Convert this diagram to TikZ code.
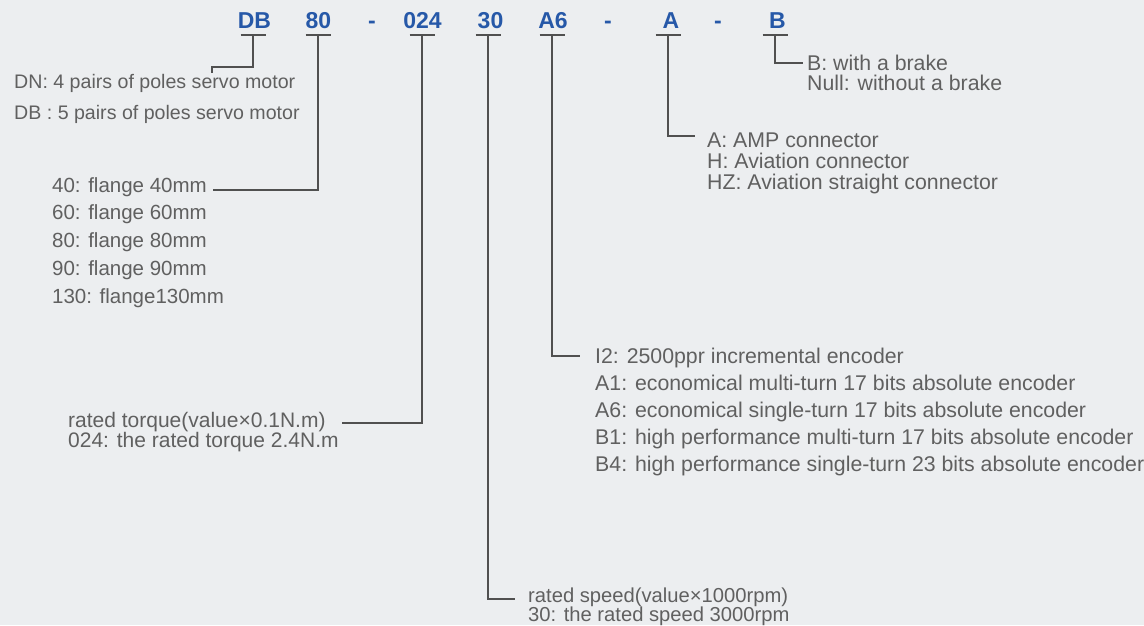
\documentclass[tikz,border=0pt]{standalone}
\usepackage{fontspec}
\setmainfont{Liberation Sans}
\usetikzlibrary{calc}
\definecolor{bg}{RGB}{236,238,240}
\definecolor{codeblue}{RGB}{38,88,168}
\definecolor{txt}{RGB}{96,96,96}
\definecolor{ln}{RGB}{80,80,80}
\begin{document}
\begin{tikzpicture}[x=1pt,y=-1pt,
 code/.style={anchor=base,inner sep=0pt,text=codeblue,font=\fontsize{23}{23}\selectfont\bfseries},
 lbl/.style={anchor=base west,inner sep=0pt,text=txt},
 conn/.style={draw=ln,line width=1.5pt},
 bar/.style={draw=ln,line width=2pt}]
\fill[bg] (0,0) rectangle (1144,625);
\useasboundingbox (0,0) rectangle (1144,625);
% codes
\node[code] (cDB) at (254.5,28.5) {DB};
\node[code] (c80) at (318.5,28.5) {80};
\node[code] (d1) at (372,28.5) {-};
\node[code] (c024) at (422.5,28.5) {024};
\node[code] (c30) at (490.5,28.5) {30};
\node[code] (cA6) at (553,28.5) {A6};
\node[code] (d2) at (608,28.5) {-};
\node[code] (cA) at (671,28.5) {A};
\node[code] (d3) at (718,28.5) {-};
\node[code] (cB) at (777.5,28.5) {B};
% stem tops
\coordinate (tDB) at (253,34.5);
\coordinate (t80) at (318,34.5);
\coordinate (t024) at (422,34.5);
\coordinate (t30) at (488,34.5);
\coordinate (tA6) at (552,34.5);
\coordinate (tA) at (668,34.5);
\coordinate (tB) at (775,34.5);
\foreach \t in {tDB,t80,t024,t30,tA6,tA,tB}
  \draw[bar] ($(\t)+(-12.5,0)$) -- ($(\t)+(12.5,0)$);
% labels
\begin{scope}[every node/.append style={lbl}]
\node[font=\fontsize{19.6}{19.6}\selectfont] (dn) at (14,88) {DN: 4 pairs of poles servo motor};
\node[font=\fontsize{19.6}{19.6}\selectfont] (db) at (14,119) {DB : 5 pairs of poles servo motor};
\node[font=\fontsize{20.5}{20.5}\selectfont] (f40) at (52,192) {40: flange 40mm};
\node[font=\fontsize{20.5}{20.5}\selectfont] (f60) at (52,219.75) {60: flange 60mm};
\node[font=\fontsize{20.5}{20.5}\selectfont] (f80) at (52,247.5) {80: flange 80mm};
\node[font=\fontsize{20.5}{20.5}\selectfont] (f90) at (52,275.25) {90: flange 90mm};
\node[font=\fontsize{20.5}{20.5}\selectfont] (f130) at (52,303) {130: flange130mm};
\node[font=\fontsize{21}{21}\selectfont] (tq1) at (68,427) {rated torque(value×0.1N.m)};
\node[font=\fontsize{21}{21}\selectfont] (tq2) at (68,447) {024: the rated torque 2.4N.m};
\node[font=\fontsize{20.2}{20.2}\selectfont] (sp1) at (528,602) {rated speed(value×1000rpm)};
\node[font=\fontsize{20.2}{20.2}\selectfont] (sp2) at (528,621) {30: the rated speed 3000rpm};
\node[font=\fontsize{21.3}{21.3}\selectfont] (en1) at (595,363) {I2: 2500ppr incremental encoder};
\node[font=\fontsize{21.3}{21.3}\selectfont] (en2) at (595,390) {A1: economical multi-turn 17 bits absolute encoder};
\node[font=\fontsize{21.3}{21.3}\selectfont] (en3) at (595,417) {A6: economical single-turn 17 bits absolute encoder};
\node[font=\fontsize{21.3}{21.3}\selectfont] (en4) at (595,444) {B1: high performance multi-turn 17 bits absolute encoder};
\node[font=\fontsize{21.3}{21.3}\selectfont] (en5) at (595,471) {B4: high performance single-turn 23 bits absolute encoder};
\node[font=\fontsize{21.3}{21.3}\selectfont] (co1) at (707,147) {A: AMP connector};
\node[font=\fontsize{21.3}{21.3}\selectfont] (co2) at (707,168) {H: Aviation connector};
\node[font=\fontsize{21.3}{21.3}\selectfont] (co3) at (707,189) {HZ: Aviation straight connector};
\node[font=\fontsize{21.3}{21.3}\selectfont] (br1) at (807,70) {B: with a brake};
\node[font=\fontsize{21.3}{21.3}\selectfont] (br2) at (807,90) {Null: without a brake};
\end{scope}
% connector ends
\coordinate (eDB) at (212,73);
\coordinate (e80) at (213,190);
\coordinate (e024) at (342,423);
\coordinate (e30) at (515,599);
\coordinate (eA6) at (580,356);
\coordinate (eA) at (695,136);
\coordinate (eB) at (803,63);
% connectors
\draw[conn] (tDB) -- ++(0,32.5) -| (eDB);
\draw[conn] (t80) |- (e80);
\draw[conn] (t024) |- (e024);
\draw[conn] (t30) |- (e30);
\draw[conn] (tA6) |- (eA6);
\draw[conn] (tA) |- (eA);
\draw[conn] (tB) |- (eB);
\end{tikzpicture}
\end{document}
